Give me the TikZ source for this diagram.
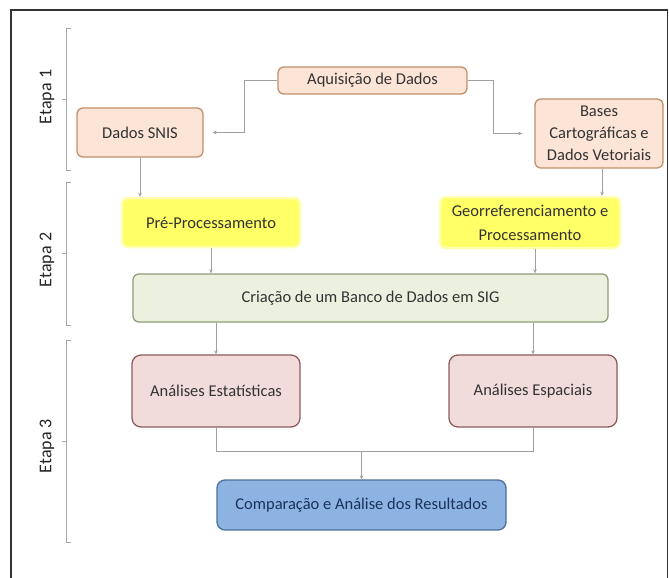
\documentclass[tikz,border=0pt]{standalone}
\usepackage{fontspec}
\setmainfont{Carlito}
\usetikzlibrary{arrows.meta,calc}
\definecolor{peachfill}{HTML}{FCE4D6}
\definecolor{peachdraw}{HTML}{C0916A}
\definecolor{yelfill}{HTML}{FFFF66}
\definecolor{yelglow}{HTML}{FFFFB0}
\definecolor{greenfill}{HTML}{EBF1DE}
\definecolor{greendraw}{HTML}{8E9C78}
\definecolor{pinkfill}{HTML}{F2DCDB}
\definecolor{pinkdraw}{HTML}{8C5C5C}
\definecolor{bluefill}{HTML}{8DB3E2}
\definecolor{bluedraw}{HTML}{4F6F99}
\definecolor{txt}{HTML}{333333}
\definecolor{etxt}{HTML}{262626}
\definecolor{conn}{HTML}{A0A0A0}
\definecolor{brk}{HTML}{A6A6A6}
\definecolor{framec}{HTML}{333333}
\tikzset{
  box/.style={rounded corners=6pt, line width=1.3pt, align=center, inner sep=2pt,
    font=\fontsize{16.5}{22}\selectfont, text=txt},
  peach/.style={box, fill=peachfill, draw=peachdraw},
  yel/.style={box, fill=yelfill, draw=yelglow, line width=2.5pt},
  green/.style={box, fill=greenfill, draw=greendraw},
  pink/.style={box, fill=pinkfill, draw=pinkdraw, rounded corners=9pt},
  blue/.style={box, fill=bluefill, draw=bluedraw, text={rgb,255:red,25;green,50;blue,90}, rounded corners=8pt},
  conn/.style={draw=conn, line width=0.8pt},
  arr/.style={conn, -{Stealth[length=4pt,width=3.5pt]}},
  brack/.style={draw=brk, line width=0.8pt},
  etapa/.style={rotate=90, text=etxt, font=\fontsize{18}{20}\selectfont}
}
\begin{document}
\begin{tikzpicture}[x=1pt,y=-1pt]
\useasboundingbox (0,0) rectangle (669,578);
% frame
\draw[framec, line width=1.3pt] (11,590) -- (11,10) -- (667.5,10) -- (667.5,590);

% brackets
\draw[brack] (71,28) -- (66,28) -- (66,170) -- (71,170);
\draw[brack] (66,99) -- (62,99);
\draw[brack] (71,182) -- (66,182) -- (66,325) -- (71,325);
\draw[brack] (66,253) -- (62,253);
\draw[brack] (71,340) -- (66,340) -- (66,542) -- (71,542);
\draw[brack] (66,441) -- (62,441);
\node[etapa] (e1) at (47,97) {Etapa 1};
\node[etapa] (e2) at (47,260) {Etapa 2};
\node[etapa] (e3) at (47,446) {Etapa 3};

% nodes
\node[peach, minimum width=189pt, minimum height=27pt] (aq) at (372.5,80.5) {Aquisição de Dados};
\node[peach, minimum width=126pt, minimum height=49pt] (snis) at (140,132.5) {Dados SNIS};
\node[peach, minimum width=128pt, minimum height=69pt] (bases) at (599,133.5) {Bases\\Cartográficas e\\Dados Vetoriais};
\node[yel, minimum width=178pt, minimum height=49pt] (pre) at (211,222.5) {Pré-Processamento};
\node[yel, minimum width=180pt, minimum height=51pt, font=\fontsize{16.5}{24}\selectfont] (geo) at (530,222.5) {Georreferenciamento e\\Processamento};
\node[green, minimum width=475pt, minimum height=48pt] (cria) at (370.5,298) {Criação de um Banco de Dados em SIG};
\node[pink, minimum width=168pt, minimum height=72pt] (est) at (216,391) {Análises Estatísticas};
\node[pink, minimum width=168pt, minimum height=72pt] (esp) at (533,391) {Análises Espaciais};
\node[blue, minimum width=289pt, minimum height=50pt] (comp) at (361.5,505) {Comparação e Análise dos Resultados};

% connectors
\draw[arr, shorten >=9pt] (aq.west) -- ++(-33,0) |- (snis.east);
\draw[arr, shorten >=12pt] (aq.east) -- ++(26,0) |- (bases.west);
\draw[arr] (snis.south) -- (snis.south |- pre.north);
\draw[arr] ([xshift=3pt]bases.south) -- ([xshift=3pt]bases.south |- geo.north);
\draw[arr] (pre.south) -- (pre.south |- cria.north);
\draw[arr] ([xshift=5pt]geo.south) -- ([xshift=5pt]geo.south |- cria.north);
\draw[arr] (est.north |- cria.south) -- (est.north);
\draw[arr] (esp.north |- cria.south) -- (esp.north);
\coordinate (j) at ($(comp.north)+(0,-28)$);
\draw[conn] (est.south) |- (j) -| (esp.south);
\draw[arr] (j) -- (comp.north);
\end{tikzpicture}
\end{document}
